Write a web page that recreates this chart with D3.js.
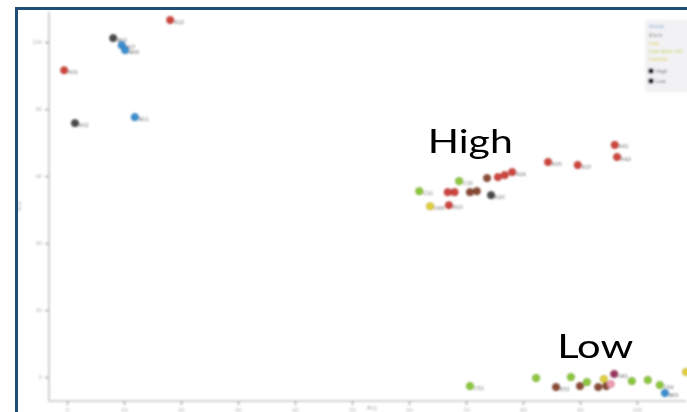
<!DOCTYPE html>
<html>
<head>
<meta charset="utf-8">
<script src="https://cdn.jsdelivr.net/npm/d3@7"></script>
<style>
  html, body { margin: 0; padding: 0; background: #fff; }
  svg { display: block; }
</style>
</head>
<body>
<svg id="chart" width="687" height="412"></svg>
<script>
// ---- data ----
const groups = ["A", "B", "C", "D", "E", "F", "G", "H"];
const groupColors = ["#cf443c", "#3b8fd0", "#8cc83c", "#e2cf3a", "#8a4a36", "#4a4a4a", "#f19bb0", "#9a3560"];

const pointX = [18.1, 8.1, 9.6, 10.2, -0.5, 11.9, 1.4,
  96.1, 96.5, 84.4, 89.6, 73.7, 75.6, 76.8, 78.1, 68.8, 61.8, 66.8, 68.0, 70.7, 71.9, 74.4, 63.7, 67.0,
  70.7, 82.3, 85.8, 88.4, 90.0, 91.2, 93.2, 94.2, 94.6, 95.4, 96.0, 99.1, 101.9, 104.0, 104.9, 108.6];
const pointY = [106.6, 101.2, 99.1, 97.6, 91.6, 77.6, 75.8,
  69.3, 65.7, 64.2, 63.3, 59.4, 59.7, 60.3, 61.2, 58.5, 55.5, 55.2, 55.2, 55.2, 55.5, 54.3, 51.0, 51.3,
  -2.7, -0.3, -3.0, 0.0, -2.7, -1.5, -3.0, -0.6, -2.7, -2.1, 0.9, -1.2, -0.9, -2.4, -4.8, 1.5];
const pointGroup = [0, 5, 1, 1, 0, 1, 5,
  0, 0, 0, 0, 4, 0, 0, 0, 2, 2, 0, 0, 4, 4, 5, 3, 0,
  2, 2, 4, 2, 4, 2, 4, 3, 4, 6, 7, 2, 2, 2, 1, 3];
// short sample ids; the outermost point at the right edge carries none
const pointLabel = ["R12", "B03", "B07", "B08", "R01", "B11", "K02",
  "R41", "R42", "R35", "R37", "", "", "", "R24", "C15", "C11", "", "", "", "", "K20", "D09", "R10",
  "C51", "", "E53", "", "", "", "", "", "", "", "H61", "", "", "C64", "B65", ""];

const xTicks = [0, 10, 20, 30, 40, 50, 60, 70, 80, 90, 100];
const yTicks = [0, 20, 40, 60, 80, 100];

const legendTitle = "Group";
const legendItems = ["Blank", "Low", "Low dose ctrl", "Control"];
const legendItemColors = ["#8a8a8a", "#e2cf3a", "#b8cf3a", "#d9c63a"];
const legendShapes = ["High", "Low"];

const annotations = [
  { text: "High", x: 63.3, y: 66.9, w: 85 },
  { text: "Low", x: 86.0, y: 5.7, w: 76 }
];

// ---- drawing ----
const svg = d3.select("#chart");
const W = 687, H = 412;

const x = d3.scaleLinear().domain([-3.16, 108.6]).range([49, 686]);
const y = d3.scaleLinear().domain([-7.16, 109]).range([401, 12]);

svg.append("rect").attr("width", W).attr("height", H).attr("fill", "#fff");

const defs = svg.append("defs");
defs.append("filter").attr("id", "soft")
  .attr("x", "-10%").attr("y", "-10%").attr("width", "120%").attr("height", "120%")
  .append("feGaussianBlur").attr("stdDeviation", 0.9);

const plot = svg.append("g").attr("filter", "url(#soft)");

// axes
const yAxis = plot.append("g").attr("transform", "translate(49,0)")
  .call(d3.axisLeft(y).tickValues(yTicks).tickSize(4).tickFormat(d3.format("d")));
const xAxis = plot.append("g").attr("transform", "translate(0,401)")
  .call(d3.axisBottom(x).tickValues(xTicks).tickSize(4).tickFormat(d3.format("d")));
[yAxis, xAxis].forEach(a => {
  a.select(".domain").attr("stroke", "#c4c4c4").attr("stroke-width", 1.6);
  a.selectAll(".tick line").attr("stroke", "#b0b0b0").attr("stroke-width", 1.6);
  a.selectAll(".tick text").attr("fill", "#aaa").attr("font-size", 5)
    .attr("font-family", "DejaVu Sans, sans-serif");
});
yAxis.select(".domain").attr("d", "M0,12V401");
xAxis.select(".domain").attr("d", "M49,0H686");

plot.append("text").attr("transform", "translate(21,206) rotate(-90)")
  .attr("text-anchor", "middle").attr("font-size", 5).attr("fill", "#888")
  .attr("font-family", "DejaVu Sans, sans-serif").text("PC2");
plot.append("text").attr("x", 372).attr("y", 410)
  .attr("text-anchor", "middle").attr("font-size", 5).attr("fill", "#888")
  .attr("font-family", "DejaVu Sans, sans-serif").text("PC1");

// points and their labels
const pts = d3.range(pointX.length).map(i => ({
  x: pointX[i], y: pointY[i], g: pointGroup[i], label: pointLabel[i]
}));

plot.append("g").selectAll("text").data(pts.filter(d => d.label)).join("text")
  .attr("x", d => x(d.x) + 4)
  .attr("y", d => y(d.y) + 3.5)
  .attr("font-size", 5).attr("fill", "#666")
  .attr("font-family", "DejaVu Sans, sans-serif")
  .text(d => d.label);

plot.append("g").selectAll("circle").data(pts).join("circle")
  .attr("cx", d => x(d.x)).attr("cy", d => y(d.y)).attr("r", 3.6)
  .attr("fill", d => groupColors[d.g])
  .attr("stroke", d => d3.color(groupColors[d.g]).darker(0.6))
  .attr("stroke-width", 0.8);

// legend
const lg = plot.append("g").attr("transform", "translate(645,20)");
lg.append("rect").attr("width", 45).attr("height", 72).attr("fill", "#f2f2f4");
lg.append("text").attr("x", 4).attr("y", 8).attr("font-size", 5).attr("fill", "#7f9fd0")
  .attr("font-family", "DejaVu Sans, sans-serif").text(legendTitle);
lg.selectAll("text.item").data(legendItems).join("text").attr("class", "item")
  .attr("x", 4).attr("y", (d, i) => 17 + i * 8)
  .attr("font-size", 5).attr("font-family", "DejaVu Sans, sans-serif")
  .attr("fill", (d, i) => legendItemColors[i]).text(d => d);
const shp = lg.selectAll("g.shape").data(legendShapes).join("g").attr("class", "shape")
  .attr("transform", (d, i) => `translate(6,${51 + i * 10})`);
shp.append("circle").attr("r", 2.8).attr("fill", "#111");
shp.append("text").attr("x", 5).attr("y", 2).attr("font-size", 5).attr("fill", "#666")
  .attr("font-family", "DejaVu Sans, sans-serif").text(d => d);

// annotations (crisp)
svg.append("g").selectAll("text").data(annotations).join("text")
  .attr("x", d => x(d.x)).attr("y", d => y(d.y))
  .attr("font-family", "Lato, sans-serif").attr("font-size", 32).attr("fill", "#000")
  .attr("textLength", d => d.w).attr("lengthAdjust", "spacingAndGlyphs")
  .text(d => d.text);

// frame
svg.append("rect").attr("x", 16.5).attr("y", 8.5).attr("width", 700).attr("height", 420)
  .attr("fill", "none").attr("stroke", "#1f4e79").attr("stroke-width", 3);
</script>
</body>
</html>
